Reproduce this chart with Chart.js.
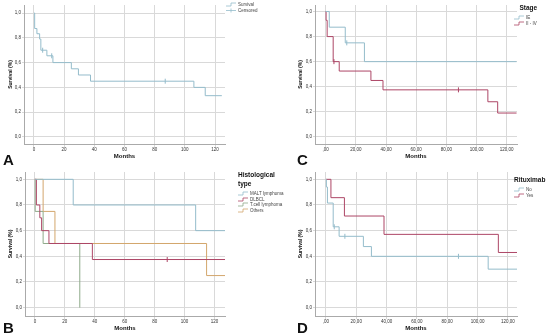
<!DOCTYPE html>
<html>
<head>
<meta charset="utf-8">
<script src="https://cdn.jsdelivr.net/npm/chart.js@4.4.1/dist/chart.umd.min.js"></script>
<style>
    body { margin: 0; width: 560px; height: 335px; background: #fff; position: relative; overflow: hidden;
           font-family: "Liberation Sans", Arial, sans-serif; }
    .panel { position: absolute; }
    .letter { position: absolute; font-weight: bold; font-size: 15px; line-height: 15px; color: #111; }
    .legend { position: absolute; font-size: 4.5px; color: #444; }
    .legend .title { font-weight: bold; font-size: 6.5px; color: #111; line-height: 9px; }
    .legend .title.last { margin-bottom: 3px; }
    .legend .row { height: 5.5px; line-height: 5.5px; white-space: nowrap; }
    .legend svg { vertical-align: middle; margin-right: 2px; }
</style>
</head>
<body>
<div class="panel" style="left:0px;top:0px"><canvas id="chartA" width="230" height="160"></canvas></div>
<div class="panel" style="left:0px;top:165px"><canvas id="chartB" width="230" height="167"></canvas></div>
<div class="panel" style="left:290px;top:0px"><canvas id="chartC" width="232" height="160"></canvas></div>
<div class="panel" style="left:290px;top:165px"><canvas id="chartD" width="232" height="167"></canvas></div>

<div class="letter" style="left:3px;top:152px">A</div>
<div class="letter" style="left:3px;top:320px">B</div>
<div class="letter" style="left:297px;top:152px">C</div>
<div class="letter" style="left:297px;top:320px">D</div>

<div class="legend" id="legendA" style="left:226px;top:2px"></div>
<div class="legend" id="legendB" style="left:238px;top:170px"></div>
<div class="legend" id="legendC" style="left:514px;top:3px"></div>
<div class="legend" id="legendD" style="left:514px;top:175px"></div>

<script>
// tick values and labels
const xTickValues = [0, 20, 40, 60, 80, 100, 120];
const xTickLabelsAB = ['0', '20', '40', '60', '80', '100', '120'];
const xTickLabelsCD = [',00', '20,00', '40,00', '60,00', '80,00', '100,00', '120,00'];
const yTickValues = [0, 0.2, 0.4, 0.6, 0.8, 1.0];
const yTickLabels = ['0,0', '0,2', '0,4', '0,6', '0,8', '1,0'];

// A: overall survival
const aTimes = [0, 0.5, 2, 3.8, 4.6, 8.6, 12.6, 24.8, 29.5, 37.5, 106, 113.5];
const aSurv = [1.0, 0.875, 0.833, 0.79, 0.70, 0.655, 0.60, 0.55, 0.50, 0.45, 0.40, 0.333];
const aCensored = [5.8, 11.8, 87];
const aEnd = 124.5;

// B: histological type
const bMaltTimes = [0, 25.6, 107.4];
const bMaltSurv = [1.0, 0.8, 0.6];
const bMaltEnd = 127;
const bDlbclTimes = [0, 1, 3.3, 4.5, 9.4, 38.4];
const bDlbclSurv = [1.0, 0.8, 0.7, 0.6, 0.5, 0.375];
const bDlbclCensored = [88.4];
const bDlbclEnd = 127;
const bTcellTimes = [0, 0.2, 5.5, 30];
const bTcellSurv = [1.0, 0.75, 0.5, 0.0];
const bTcellEnd = 30;
const bOtherTimes = [0, 5.5, 13.4, 114.7];
const bOtherSurv = [1.0, 0.75, 0.5, 0.25];
const bOtherEnd = 127;

// C: stage
const cIeTimes = [0, 2.4, 13, 25.7];
const cIeSurv = [1.0, 0.875, 0.75, 0.6];
const cIeCensored = [14];
const cIeEnd = 126.5;
const cAdvTimes = [0, 0.3, 1, 5, 9, 30, 38, 107.5, 114];
const cAdvSurv = [1.0, 0.93, 0.8, 0.6, 0.525, 0.45, 0.375, 0.28, 0.19];
const cAdvCensored = [5.5, 88];
const cAdvEnd = 126.5;

// D: rituximab
const dNoTimes = [0, 0.3, 1, 4.8, 8.7, 24.7, 30, 107];
const dNoSurv = [1.0, 0.94, 0.815, 0.63, 0.556, 0.476, 0.40, 0.30];
const dNoCensored = [5.5, 12.5, 87.4];
const dNoEnd = 126;
const dYesTimes = [0, 3.3, 12.2, 38.3, 113.7];
const dYesSurv = [1.0, 0.857, 0.714, 0.571, 0.43];
const dYesEnd = 126;

const BLUE = '#94bccb';
const RED = '#ad4666';
const GREEN = '#8faa8a';
const TAN = '#d3a66c';

function survAt(times, surv, t) {
    let s = surv[0];
    times.forEach((tt, i) => { if (tt <= t) s = surv[i]; });
    return s;
}

function seriesDatasets(s) {
    const pts = s.times.map((t, i) => ({ x: t, y: s.surv[i] }));
    pts.push({ x: s.end, y: s.surv[s.surv.length - 1] });
    const out = [{
        type: 'line',
        label: s.label,
        data: pts,
        borderColor: s.color,
        borderWidth: 1,
        stepped: 'before',
        pointRadius: 0,
        fill: false
    }];
    if (s.censored && s.censored.length) {
        out.push({
            type: 'scatter',
            label: s.label + ' censored',
            data: s.censored.map(t => ({ x: t, y: survAt(s.times, s.surv, t) })),
            pointStyle: 'line',
            rotation: 90,
            radius: 2.5,
            borderColor: s.color,
            borderWidth: 1,
            showLine: false
        });
    }
    return out;
}

function buildChart(id, cfg) {
    const datasets = [];
    cfg.series.forEach(s => datasets.push(...seriesDatasets(s)));
    return new Chart(document.getElementById(id), {
        data: { datasets },
        options: {
            responsive: false,
            animation: false,
            events: [],
            layout: { padding: cfg.padding },
            plugins: { legend: { display: false }, tooltip: { enabled: false } },
            scales: {
                x: {
                    type: 'linear',
                    min: cfg.xMin,
                    max: cfg.xMax,
                    afterBuildTicks: sc => { sc.ticks = xTickValues.map(v => ({ value: v })); },
                    afterFit: sc => { sc.height = 16; },
                    ticks: {
                        callback: (v, i) => cfg.xLabels[i],
                        font: { size: 4.5, family: 'Liberation Sans' },
                        color: '#333',
                        padding: 0,
                        maxRotation: 0,
                        autoSkip: false
                    },
                    grid: { color: '#d9d9d9', tickLength: 3 },
                    border: { color: '#aaa' },
                    title: {
                        display: true,
                        text: 'Months',
                        font: { size: 6, weight: 'bold', family: 'Liberation Sans' },
                        color: '#111',
                        padding: 0
                    }
                },
                y: {
                    type: 'linear',
                    min: cfg.yMin,
                    max: cfg.yMax,
                    afterBuildTicks: sc => { sc.ticks = yTickValues.map(v => ({ value: v })); },
                    afterFit: sc => { sc.width = cfg.yWidth; },
                    ticks: {
                        callback: (v, i) => yTickLabels[i],
                        font: { size: 4.5, family: 'Liberation Sans' },
                        color: '#333',
                        padding: 1,
                        autoSkip: false
                    },
                    grid: { color: '#d9d9d9', tickLength: 2 },
                    border: { color: '#aaa' },
                    title: {
                        display: true,
                        text: 'Survival (%)',
                        font: { size: 5, weight: 'bold', family: 'Liberation Sans' },
                        color: '#111',
                        padding: { top: 8, bottom: 0 }
                    }
                }
            }
        }
    });
}

function stepIcon(color, censor) {
    if (censor) {
        return `<svg width="10" height="5"><line x1="0" y1="2.5" x2="10" y2="2.5" stroke="${color}" stroke-width="0.8"/><line x1="5" y1="0.5" x2="5" y2="4.5" stroke="${color}" stroke-width="0.8"/></svg>`;
    }
    return `<svg width="10" height="5"><polyline points="0,4 5,4 5,1 10,1" fill="none" stroke="${color}" stroke-width="0.8"/></svg>`;
}

function fillLegend(id, title, items) {
    let html = '';
    if (title) title.forEach((line, i) => {
        const cls = i === title.length - 1 ? 'title last' : 'title';
        html += `<div class="${cls}">${line}</div>`;
    });
    items.forEach(it => { html += `<div class="row">${stepIcon(it.color, it.censor)}${it.label}</div>`; });
    document.getElementById(id).innerHTML = html;
}

buildChart('chartA', {
    series: [{ label: 'Survival', times: aTimes, surv: aSurv, censored: aCensored, end: aEnd, color: BLUE }],
    xMin: -6.56, xMax: 126.6, yMin: -0.057, yMax: 1.065, yWidth: 24, xLabels: xTickLabelsAB,
    padding: { left: 0, right: 3, top: 1, bottom: 0 }
});

buildChart('chartB', {
    series: [
        { label: 'MALT lymphoma', times: bMaltTimes, surv: bMaltSurv, end: bMaltEnd, color: BLUE },
        { label: 'DLBCL', times: bDlbclTimes, surv: bDlbclSurv, censored: bDlbclCensored, end: bDlbclEnd, color: RED },
        { label: 'T.cell lymphoma', times: bTcellTimes, surv: bTcellSurv, end: bTcellEnd, color: GREEN },
        { label: 'Others', times: bOtherTimes, surv: bOtherSurv, end: bOtherEnd, color: TAN }
    ],
    xMin: -6.6, xMax: 127, yMin: -0.065, yMax: 1.057, yWidth: 25, xLabels: xTickLabelsAB,
    padding: { left: 0, right: 2, top: 7, bottom: 0 }
});

buildChart('chartC', {
    series: [
        { label: 'IE', times: cIeTimes, surv: cIeSurv, censored: cIeCensored, end: cIeEnd, color: BLUE },
        { label: 'II - IV', times: cAdvTimes, surv: cAdvSurv, censored: cAdvCensored, end: cAdvEnd, color: RED }
    ],
    xMin: -7.05, xMax: 126.8, yMin: -0.057, yMax: 1.052, yWidth: 25, xLabels: xTickLabelsCD,
    padding: { left: 0, right: 4, top: 1, bottom: 0 }
});

buildChart('chartD', {
    series: [
        { label: 'No', times: dNoTimes, surv: dNoSurv, censored: dNoCensored, end: dNoEnd, color: BLUE },
        { label: 'Yes', times: dYesTimes, surv: dYesSurv, end: dYesEnd, color: RED }
    ],
    xMin: -7.2, xMax: 126, yMin: -0.065, yMax: 1.057, yWidth: 25, xLabels: xTickLabelsCD,
    padding: { left: 0, right: 3, top: 7, bottom: 0 }
});

fillLegend('legendA', null, [
    { label: 'Survival', color: BLUE },
    { label: 'Censored', color: BLUE, censor: true }
]);
fillLegend('legendB', ['Histological', 'type'], [
    { label: 'MALT lymphoma', color: BLUE },
    { label: 'DLBCL', color: RED },
    { label: 'T.cell lymphoma', color: GREEN },
    { label: 'Others', color: TAN }
]);
fillLegend('legendC', ['&nbsp;&nbsp;&nbsp;Stage'], [
    { label: 'IE', color: BLUE },
    { label: 'II - IV', color: RED }
]);
fillLegend('legendD', ['Rituximab'], [
    { label: 'No', color: BLUE },
    { label: 'Yes', color: RED }
]);
</script>
</body>
</html>
